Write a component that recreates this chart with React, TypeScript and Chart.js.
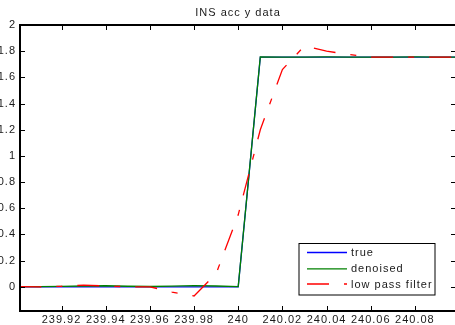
import React, { useEffect, useRef } from "react";
import { Chart, registerables } from "chart.js";

Chart.register(...registerables);

const chartTitle = "INS acc y data";
const seriesNames = ["true", "denoised", "low pass filter"];
const seriesColors = ["#0000ff", "#008000", "#ff0000"];

const timeStamps = [
  239.9, 239.91, 239.92, 239.93, 239.94, 239.95, 239.96, 239.97, 239.98, 239.99,
  240.0, 240.01, 240.02, 240.03, 240.04, 240.05, 240.06, 240.07, 240.08, 240.09, 240.1,
];
const trueValues = [
  0, 0, 0, 0, 0, 0, 0, 0, 0, 0,
  0, 1.755, 1.755, 1.755, 1.755, 1.755, 1.755, 1.755, 1.755, 1.755, 1.755,
];
const denoisedValues = [
  0.002, 0.001, 0.003, 0.006, 0.008, 0.004, 0.002, 0.005, 0.009, 0.006,
  0.001, 1.756, 1.755, 1.754, 1.756, 1.755, 1.754, 1.755, 1.756, 1.755, 1.755,
];
const lowPassValues = [
  0.002, 0.0, 0.004, 0.012, 0.006, 0.0, 0.0, -0.04, -0.07, 0.1,
  0.55, 1.2, 1.66, 1.84, 1.8, 1.775, 1.755, 1.755, 1.755, 1.755, 1.755,
];

const xTickValues = [239.92, 239.94, 239.96, 239.98, 240.0, 240.02, 240.04, 240.06, 240.08];
const yTickValues = [0, 0.2, 0.4, 0.6, 0.8, 1, 1.2, 1.4, 1.6, 1.8, 2];
const xLimits = [239.9012, 240.0986];
const yLimits = [-0.185, 2];

const FONT = "'Liberation Sans', Arial, Helvetica, sans-serif";
const redDash = [22, 15, 6, 15];

const fmt = (v: number) => String(parseFloat(Number(v).toFixed(2)));

const framePlugin = {
  id: "matlabFrame",
  beforeDraw(chart: any) {
    chart.ctx.letterSpacing = "1px";
  },
  afterDatasetsDraw(chart: any) {
    const { ctx, chartArea } = chart;
    const { left, right, top, bottom } = chartArea;
    const xs = chart.scales.x;
    const ys = chart.scales.y;
    ctx.save();
    ctx.strokeStyle = "#000";
    ctx.lineWidth = 1;
    const tl = 5;
    ctx.beginPath();
    for (const v of xTickValues) {
      const px = Math.round(xs.getPixelForValue(v)) + 0.5;
      ctx.moveTo(px, bottom);
      ctx.lineTo(px, bottom - tl);
      ctx.moveTo(px, top);
      ctx.lineTo(px, top + tl);
    }
    for (const v of yTickValues) {
      const py = Math.round(ys.getPixelForValue(v)) + 0.5;
      ctx.moveTo(left, py);
      ctx.lineTo(left + tl, py);
      ctx.moveTo(right, py);
      ctx.lineTo(right - tl, py);
    }
    ctx.stroke();
    ctx.lineWidth = 2;
    ctx.strokeRect(left, top, right - left, bottom - top);
    ctx.restore();
  },
  afterDraw(chart: any) {
    const { ctx, chartArea } = chart;
    const { left, right, bottom } = chartArea;
    ctx.save();
    ctx.letterSpacing = "1px";
    ctx.fillStyle = "#1a1a1a";
    ctx.font = `11px ${FONT}`;
    ctx.textAlign = "center";
    ctx.textBaseline = "alphabetic";
    ctx.fillText(chartTitle, (left + right) / 2, 16);

    // legend box
    const bx = right - 157.5;
    const by = bottom - 68;
    const bw = 136;
    const bh = 51.5;
    ctx.fillStyle = "#fff";
    ctx.fillRect(bx, by, bw, bh);
    ctx.strokeStyle = "#000";
    ctx.lineWidth = 1;
    ctx.strokeRect(bx + 0.5, by + 0.5, bw, bh);
    const rowOffsets = [9.5, 25.8, 41];
    seriesNames.forEach((name, i) => {
      const ry = by + rowOffsets[i];
      ctx.save();
      ctx.strokeStyle = seriesColors[i];
      ctx.lineWidth = 1.3;
      ctx.setLineDash(i === 2 ? redDash : []);
      ctx.beginPath();
      ctx.moveTo(bx + 8.5, ry);
      ctx.lineTo(bx + 48.5, ry);
      ctx.stroke();
      ctx.restore();
      ctx.fillStyle = "#1a1a1a";
      ctx.textAlign = "left";
      ctx.fillText(name, bx + 52.5, ry + 3.6);
    });
    ctx.restore();
  },
};

const makePoints = (vals: number[]) => timeStamps.map((t, i) => ({ x: t, y: vals[i] }));

export default function App() {
  const canvasRef = useRef<HTMLCanvasElement | null>(null);

  useEffect(() => {
    const canvas = canvasRef.current;
    if (!canvas) return;
    const chart = new Chart(canvas, {
      type: "line",
      data: {
        datasets: [
          {
            label: seriesNames[0],
            data: makePoints(trueValues),
            borderColor: seriesColors[0],
            borderWidth: 1.3,
            pointRadius: 0,
            tension: 0,
            order: 2,
          },
          {
            label: seriesNames[1],
            data: makePoints(denoisedValues),
            borderColor: seriesColors[1],
            borderWidth: 1.3,
            pointRadius: 0,
            tension: 0,
            order: 1,
          },
          {
            label: seriesNames[2],
            data: makePoints(lowPassValues),
            borderColor: seriesColors[2],
            borderWidth: 1.3,
            borderDash: redDash,
            borderDashOffset: 56,
            pointRadius: 0,
            tension: 0,
            order: 0,
          },
        ],
      },
      options: {
        animation: false,
        responsive: false,
        devicePixelRatio: 1,
        layout: { padding: { top: 25, right: 6, left: 0, bottom: 0 } },
        plugins: {
          legend: { display: false },
          title: { display: false },
          tooltip: { enabled: false },
        },
        scales: {
          x: {
            type: "linear",
            min: xLimits[0],
            max: xLimits[1],
            grid: { display: false, drawTicks: false },
            border: { display: false },
            afterBuildTicks: (s: any) => {
              s.ticks = xTickValues.map((v) => ({ value: v }));
            },
            afterFit: (s: any) => {
              s.height = 14;
            },
            ticks: {
              autoSkip: false,
              maxRotation: 0,
              padding: 2,
              color: "#1a1a1a",
              font: { family: FONT, size: 11 },
              callback: (v: any) => fmt(v),
            },
          },
          y: {
            type: "linear",
            min: yLimits[0],
            max: yLimits[1],
            grid: { display: false, drawTicks: false },
            border: { display: false },
            afterBuildTicks: (s: any) => {
              s.ticks = yTickValues.map((v) => ({ value: v }));
            },
            afterFit: (s: any) => {
              s.width = 20;
            },
            ticks: {
              autoSkip: false,
              padding: 4,
              color: "#1a1a1a",
              font: { family: FONT, size: 11 },
              callback: (v: any) => fmt(v),
            },
          },
        },
      },
      plugins: [framePlugin],
    });
    return () => chart.destroy();
  }, []);

  return (
    <div
      style={{
        position: "fixed",
        left: 0,
        top: 0,
        width: 455,
        height: 325,
        overflow: "hidden",
        background: "#fff",
      }}
    >
      <canvas ref={canvasRef} width={462} height={325} style={{ width: 462, height: 325, display: "block" }} />
    </div>
  );
}
